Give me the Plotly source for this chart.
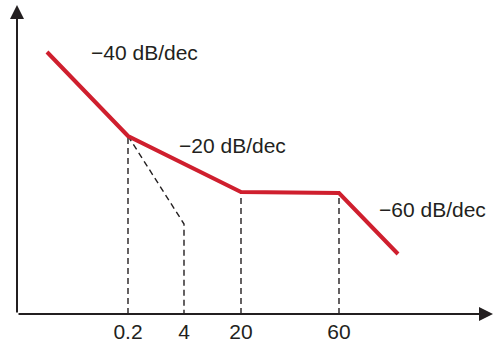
import plotly.graph_objects as go

# Schematic positions (axis units) of the asymptotic Bode magnitude plot
red_x = [30, 111, 224, 322, 381]
red_y = [262, 178, 122, 121, 60]

# dashed construction line from the 0.2 break to the 4 break
aux_x = [111, 167, 167]
aux_y = [178, 90, 0]

# vertical dashed lines at the break frequencies
vert_x = [111, 224, 322]
vert_top = [178, 122, 121]

tick_vals = [111, 167, 224, 322]
tick_text = ["0.2", "4", "20", "60"]

slope_labels = ["\u221240 dB/dec", "\u221220 dB/dec", "\u221260 dB/dec"]
label_x = [72, 160, 360]
label_y = [262, 169, 105]

RED = "#cf1f2e"
INK = "#231f20"
FONT = "Liberation Sans, Arial, sans-serif"

fig = go.Figure()

for vx, vt in zip(vert_x, vert_top):
    fig.add_trace(go.Scatter(x=[vx, vx], y=[0, vt], mode="lines",
                             line=dict(color=INK, width=1.4, dash="6px,4px"),
                             hoverinfo="skip", showlegend=False))

fig.add_trace(go.Scatter(x=aux_x, y=aux_y, mode="lines",
                         line=dict(color=INK, width=1.4, dash="6px,4px"),
                         hoverinfo="skip", showlegend=False))

fig.add_trace(go.Scatter(x=red_x, y=red_y, mode="lines",
                         line=dict(color=RED, width=4),
                         hoverinfo="skip", showlegend=False))

for t, lx, ly in zip(slope_labels, label_x, label_y):
    fig.add_annotation(x=lx, y=ly, text=t, showarrow=False, xanchor="left",
                       yanchor="middle", font=dict(family=FONT, size=21, color=INK))

# axis arrows
fig.add_annotation(x=1, y=0, ax=0, ay=0, xref="x domain", yref="y domain",
                   axref="x domain", ayref="y domain", text="", showarrow=True,
                   arrowhead=2, arrowsize=1.4, arrowwidth=2, arrowcolor=INK)
fig.add_annotation(x=0, y=1, ax=0, ay=0, xref="x domain", yref="y domain",
                   axref="x domain", ayref="y domain", text="", showarrow=True,
                   arrowhead=2, arrowsize=1.4, arrowwidth=2, arrowcolor=INK)

fig.update_layout(
    width=495, height=345,
    margin=dict(l=17, r=2, t=5, b=31, autoexpand=False),
    paper_bgcolor="white", plot_bgcolor="white",
    font=dict(family=FONT, size=21, color=INK),
    xaxis=dict(range=[0, 476], showgrid=False, zeroline=False, showline=False,
               automargin=False, ticklabelstandoff=3,
               tickmode="array", tickvals=tick_vals, ticktext=tick_text,
               ticks="", tickfont=dict(family=FONT, size=21, color=INK)),
    yaxis=dict(range=[0, 309], showgrid=False, zeroline=False, showline=False,
               automargin=False, showticklabels=False, ticks=""),
)

fig.write_html("out.html",
               config={"displayModeBar": False, "staticPlot": True},
               post_script="document.body.style.margin='0';"
                           "document.body.style.overflow='hidden';")
